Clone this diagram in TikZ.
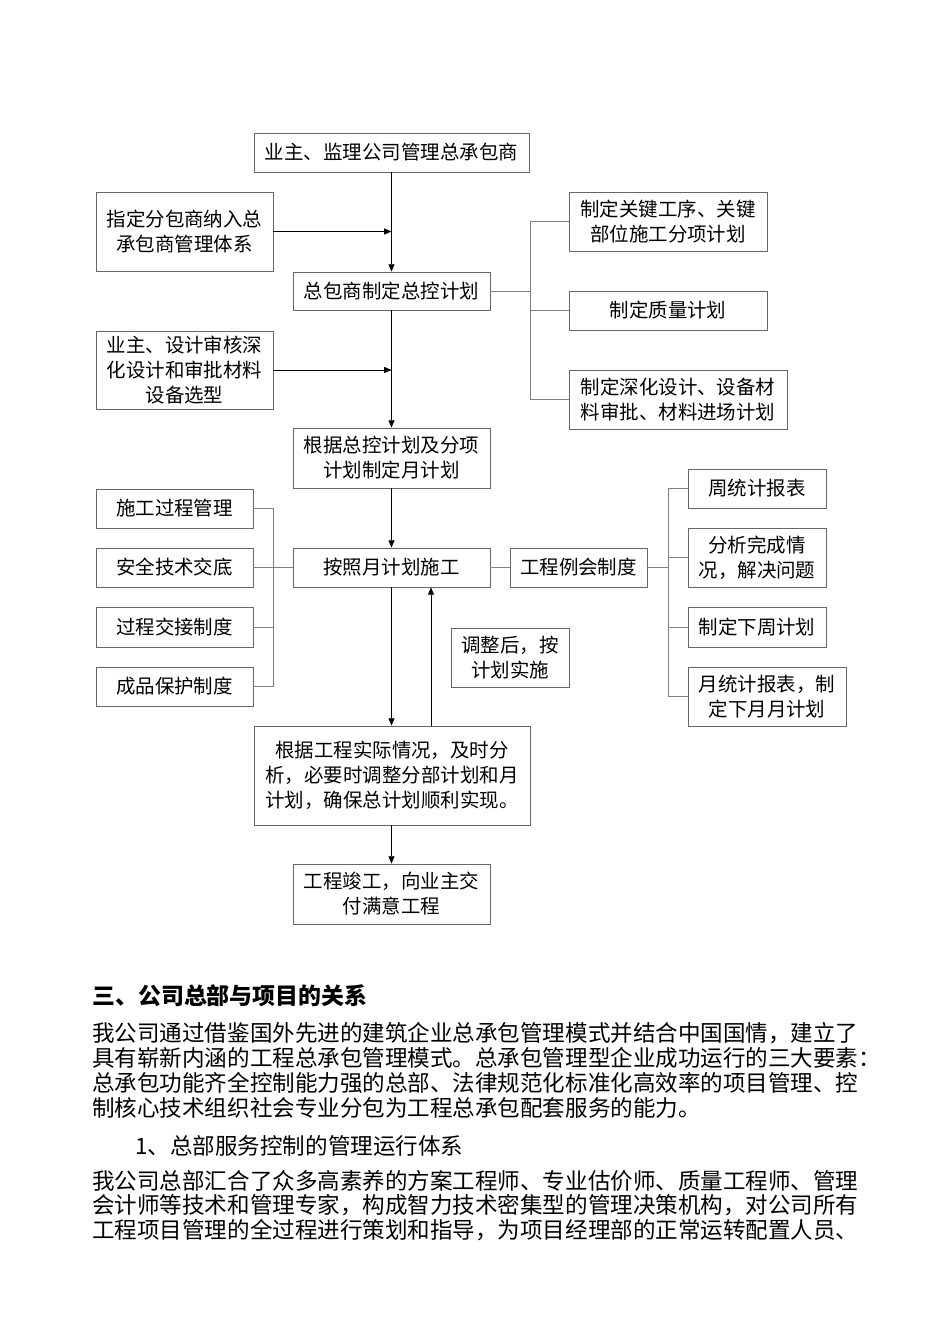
\documentclass[tikz,border=0pt]{standalone}
\usepackage{fontspec}
\setmainfont{Noto Sans CJK SC}
\usetikzlibrary{shadows,arrows.meta}
\newcommand\bx[6]{\node[box, minimum width={(#4-#2)*0.75pt}, minimum height={(#5-#3)*0.75pt}] (#1) at ({(#2+#4)/2},{(#3+#5)/2}) {#6};}
\begin{document}
\begin{tikzpicture}[x=0.75pt,y=-0.75pt,
  box/.style={draw=black!60, fill=white, line width=0.6pt, align=center, inner sep=0pt,
    font=\fontsize{14.6pt}{18.75pt}\selectfont,
    drop shadow={shadow xshift=0.8pt, shadow yshift=-0.8pt, fill=black!55, opacity=1}},
  arr/.style={-{Triangle[length=5.5pt,width=4.5pt]}, line width=0.6pt, black},
  bline/.style={draw=black!50, line width=0.6pt},
  para/.style={anchor=west, inner sep=0pt, font=\fontsize{16.9pt}{18.75pt}\selectfont}]
\useasboundingbox[fill=white] (0,0) rectangle (950,1344);

\bx{A}{254}{133}{529}{172}{业主、监理公司管理总承包商}
\bx{B}{96}{192}{273}{271}{指定分包商纳入总\\承包商管理体系}
\bx{C}{293}{272}{490}{310}{总包商制定总控计划}
\bx{R1}{569}{192}{767}{251}{制定关键工序、关键\\部位施工分项计划}
\bx{R2}{569}{291}{767}{330}{制定质量计划}
\bx{R3}{569}{370}{787}{429}{制定深化设计、设备材\\料审批、材料进场计划}
\bx{D}{96}{331}{273}{409}{业主、设计审核深\\化设计和审批材料\\设备选型}
\bx{E}{293}{428}{490}{488}{根据总控计划及分项\\计划制定月计划}
\bx{L1}{96}{489}{253}{528}{施工过程管理}
\bx{F}{293}{548}{490}{587}{按照月计划施工}
\bx{L2}{96}{548}{253}{587}{安全技术交底}
\bx{L3}{96}{607}{253}{647}{过程交接制度}
\bx{L4}{96}{667}{253}{706}{成品保护制度}
\bx{G}{510}{548}{647}{587}{工程例会制度}
\bx{S1}{688}{469}{826}{508}{周统计报表}
\bx{S2}{688}{528}{826}{587}{分析完成情\\况，解决问题}
\bx{S3}{688}{607}{826}{647}{制定下周计划}
\bx{S4}{688}{667}{846}{726}{月统计报表，制\\定下月月计划}
\bx{H}{451}{628}{569}{687}{调整后，按\\计划实施}
\bx{I}{254}{726}{530}{825}{根据工程实际情况，及时分\\析，必要时调整分部计划和月\\计划，确保总计划顺利实现。}
\bx{J}{293}{864}{490}{924}{工程竣工，向业主交\\付满意工程}

% main arrows
\draw[arr] (A.south) -- (C.north);
\draw[arr] (B.east) -- (B.east -| A.south);
\draw[arr] (C.south) -- (E.north);
\draw[arr] (D.east) -- (D.east -| A.south);
\draw[arr] (E.south) -- (F.north);
\draw[arr] (F.south) -- (F.south |- I.north);
\coordinate (up) at (431,0);
\draw[arr] (I.north -| up) -- (F.south -| up);
\draw[arr] (I.south -| J.north) -- (J.north);

% right bracket (top)
\coordinate (rb) at (530,0);
\draw[bline] (C.east) -- (C.east -| rb);
\draw[bline] (R1.west) -- (R1.west -| rb) |- (R3.west);
\draw[bline] (R2.west) -- (R2.west -| rb);
% left bracket
\coordinate (lb) at (273,0);
\draw[bline] (L1.east) -- (L1.east -| lb) |- (L4.east);
\draw[bline] (L2.east) -- (F.west);
\draw[bline] (L3.east) -- (L3.east -| lb);
\draw[bline] (F.east) -- (G.west);
% right bracket (bottom)
\coordinate (sb) at (668,0);
\draw[bline] (S1.west) -- (S1.west -| sb) |- (S4.west);
\draw[bline] (G.east) -- (G.east -| sb);
\draw[bline] (S2.west) -- (S2.west -| sb);
\draw[bline] (S3.west) -- (S3.west -| sb);

% text below
\node[para, font=\fontsize{17.2pt}{20pt}\selectfont\bfseries] (h) at (92,996) {三、公司总部与项目的关系};
\node[para] (p1) at (92,1033) {我公司通过借鉴国外先进的建筑企业总承包管理模式并结合中国国情，建立了};
\node[para] (p2) at (92,1058) {具有崭新内涵的工程总承包管理模式。总承包管理型企业成功运行的三大要素：};
\node[para] (p3) at (92,1083) {总承包功能齐全控制能力强的总部、法律规范化标准化高效率的项目管理、控};
\node[para] (p4) at (92,1108) {制核心技术组织社会专业分包为工程总承包配套服务的能力。};
\node[para] (s1) at (135,1146) {1、总部服务控制的管理运行体系};
\node[para] (q1) at (92,1181) {我公司总部汇合了众多高素养的方案工程师、专业估价师、质量工程师、管理};
\node[para] (q2) at (92,1205) {会计师等技术和管理专家，构成智力技术密集型的管理决策机构，对公司所有};
\node[para] (q3) at (92,1230) {工程项目管理的全过程进行策划和指导，为项目经理部的正常运转配置人员、};
\end{tikzpicture}
\end{document}
